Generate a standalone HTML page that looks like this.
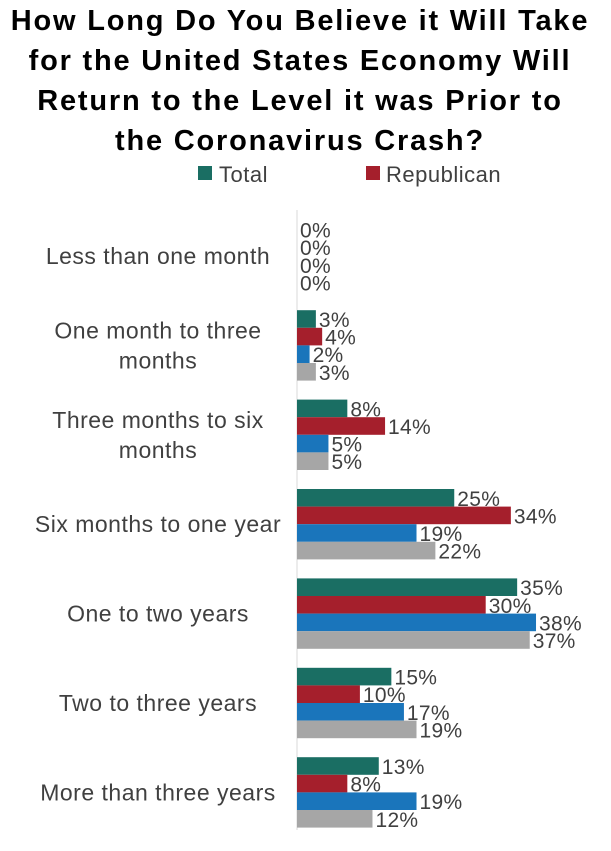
<!DOCTYPE html>
<html><head><meta charset="utf-8"><style>
body{margin:0;background:#fff;font-family:"Liberation Sans",sans-serif}
</style></head><body>
<svg width="611" height="846" xmlns="http://www.w3.org/2000/svg">
<g font-weight="bold" font-size="29" letter-spacing="1.8" text-anchor="middle" fill="#000">
<text x="300" y="30">How Long Do You Believe it Will Take</text>
<text x="300" y="70">for the United States Economy Will</text>
<text x="300" y="110">Return to the Level it was Prior to</text>
<text x="300" y="150">the Coronavirus Crash?</text>
</g>
<g font-size="22" letter-spacing="0.5" fill="#404040">
<rect x="198" y="166" width="14" height="14" fill="#1a6e63"/>
<text x="219" y="182">Total</text>
<rect x="366" y="166" width="14" height="14" fill="#a51f2c"/>
<text x="386" y="182">Republican</text>
</g>
<line x1="297" y1="210" x2="297" y2="830" stroke="#d9d9d9"/>
<g id="plot"></g>
</svg>
<script>
const categories=[["Less than one month"],["One month to three","months"],["Three months to six","months"],["Six months to one year"],["One to two years"],["Two to three years"],["More than three years"]];
const seriesNames=["total","republican","democrat","independent"];
const total=[0,3,8,25,35,15,13];
const republican=[0,4,14,34,30,10,8];
const democrat=[0,2,5,19,38,17,19];
const independent=[0,3,5,22,37,19,12];
const colors=["#1a6e63","#a51f2c","#1a75bb","#a6a6a6"];
const series=[total,republican,democrat,independent];
const x0=297,pxPer=6.29,gTop=256,gPitch=89.4,barH=17.6;
const xs=v=>x0+v*pxPer;
const ns="http://www.w3.org/2000/svg";
const plot=document.getElementById('plot');
categories.forEach((cat,i)=>{
  const cy=gTop+i*gPitch;
  const t=document.createElementNS(ns,'text');
  
  
  t.setAttribute('text-anchor','middle');t.setAttribute('font-size','23');t.setAttribute('letter-spacing','0.5');t.setAttribute('fill','#404040');
  const lh=30,start=cy+8-(cat.length-1)*lh/2;
  cat.forEach((ln,k)=>{const s=document.createElementNS(ns,'tspan');s.setAttribute('x','158');s.setAttribute('y',start+k*lh);s.textContent=ln;t.appendChild(s);});
  plot.appendChild(t);
  series.forEach((arr,j)=>{
    const y=cy-2*barH+j*barH;
    const r=document.createElementNS(ns,'rect');
    
    
    r.setAttribute('x',x0);r.setAttribute('y',y);r.setAttribute('width',Math.max(0,xs(arr[i])-x0));r.setAttribute('height',barH);r.setAttribute('fill',colors[j]);
    plot.appendChild(r);
    const l=document.createElementNS(ns,'text');
    
    
    l.setAttribute('x',xs(arr[i])+3);l.setAttribute('y',y+barH/2+8);l.setAttribute('font-size','21');l.setAttribute('letter-spacing','0.3');l.setAttribute('fill','#404040');
    l.textContent=arr[i]+'%';
    plot.appendChild(l);
  });
});
</script>
</body></html>
